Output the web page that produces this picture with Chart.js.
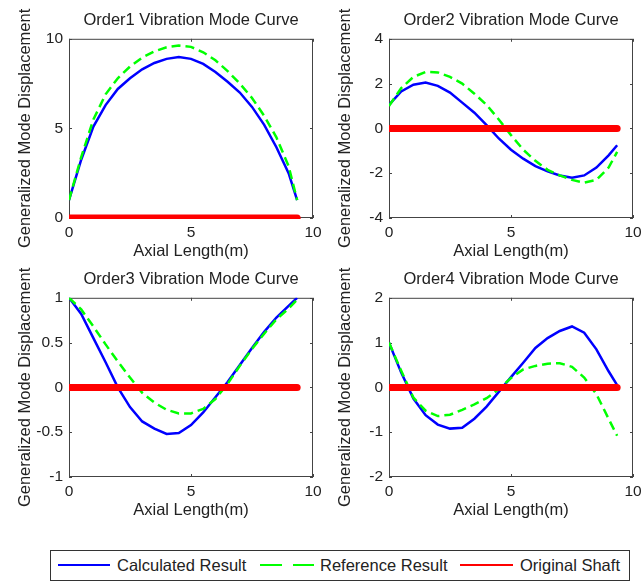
<!DOCTYPE html>
<html>
<head>
<meta charset="utf-8">
<title>Vibration Mode Curves</title>
<script src="https://cdn.jsdelivr.net/npm/chart.js@4.4.1/dist/chart.umd.min.js"></script>
<style>
    html, body { margin: 0; padding: 0; background: #fff; }
    #page { position: relative; width: 643px; height: 582px; overflow: hidden;
            font-family: "Liberation Sans", Arial, sans-serif; color: #222; }
    .plot { position: absolute; width: 322px; height: 270px; }
    #legend { position: absolute; left: 50px; top: 550px; width: 578px; height: 29px;
              border: 1px solid #333; background: #fff; }
    #legend .sample { position: absolute; top: 13px; height: 2px; }
    #legend .label { position: absolute; top: 4px; font-size: 16.5px; line-height: 20px; white-space: nowrap; }
</style>
</head>
<body>
<div id="page">
    <canvas id="order1" class="plot" width="322" height="270" style="left:0;top:0"></canvas>
    <canvas id="order2" class="plot" width="322" height="270" style="left:320px;top:0"></canvas>
    <canvas id="order3" class="plot" width="322" height="270" style="left:0;top:259px"></canvas>
    <canvas id="order4" class="plot" width="322" height="270" style="left:320px;top:259px"></canvas>
    <div id="legend">
        <div class="sample" style="left:7px;width:52px;background:#0000ff"></div>
        <div class="label" style="left:66px">Calculated Result</div>
        <div class="sample" style="left:209px;width:22px;background:#00ff00"></div>
        <div class="sample" style="left:242px;width:21px;background:#00ff00"></div>
        <div class="label" style="left:269px">Reference Result</div>
        <div class="sample" style="left:409px;width:53px;background:#ff0000"></div>
        <div class="label" style="left:469px">Original Shaft</div>
    </div>
</div>

<script>
// axial positions (m)
var xs = [0, 0.5, 1, 1.5, 2, 2.5, 3, 3.5, 4, 4.5, 5, 5.5, 6, 6.5, 7, 7.5, 8, 8.5, 9, 9.35];

var order1Calculated = [1.0, 3.25, 5.1, 6.3, 7.2, 7.8, 8.3, 8.65, 8.88, 8.98, 8.88, 8.6, 8.15, 7.6, 7.0, 6.2, 5.2, 3.95, 2.5, 1.0];
var order1Reference  = [1.0, 3.4, 5.5, 6.9, 7.8, 8.45, 8.95, 9.3, 9.53, 9.62, 9.55, 9.25, 8.8, 8.2, 7.5, 6.7, 5.7, 4.5, 2.9, 1.0];

var order2Calculated = [1.05, 1.65, 1.95, 2.05, 1.9, 1.6, 1.15, 0.7, 0.15, -0.45, -0.95, -1.35, -1.68, -1.92, -2.1, -2.2, -2.1, -1.75, -1.2, -0.75];
var order2Reference  = [1.0, 1.8, 2.3, 2.52, 2.5, 2.3, 2.0, 1.55, 1.05, 0.4, -0.3, -0.95, -1.45, -1.85, -2.1, -2.3, -2.42, -2.3, -1.75, -1.05];

var order3Calculated = [1.0, 0.82, 0.55, 0.28, 0.0, -0.22, -0.38, -0.46, -0.52, -0.51, -0.42, -0.28, -0.11, 0.06, 0.25, 0.44, 0.62, 0.78, 0.91, 1.0];
var order3Reference  = [1.0, 0.87, 0.68, 0.48, 0.29, 0.11, -0.06, -0.17, -0.25, -0.29, -0.29, -0.24, -0.13, 0.04, 0.24, 0.43, 0.6, 0.76, 0.88, 0.98];

var order4Calculated = [1.0, 0.33, -0.25, -0.62, -0.83, -0.92, -0.9, -0.7, -0.43, -0.1, 0.23, 0.55, 0.88, 1.1, 1.26, 1.36, 1.22, 0.85, 0.36, 0.05];
var order4Reference  = [1.0, 0.37, -0.23, -0.52, -0.64, -0.61, -0.5, -0.38, -0.24, -0.04, 0.21, 0.4, 0.48, 0.53, 0.54, 0.46, 0.22, -0.15, -0.7, -1.08];

// undeformed shaft
var shaftX = [0, 9.35];
var shaftY = [0, 0];

var xTicks = [0, 5, 10];
var order1Ticks = [0, 5, 10];
var order2Ticks = [-4, -2, 0, 2, 4];
var order3Ticks = [-1, -0.5, 0, 0.5, 1];
var order4Ticks = [-2, -1, 0, 1, 2];

var FONT = '"Liberation Sans", Arial, sans-serif';

function points(x, y) {
    return x.map(function (v, i) { return { x: v, y: y[i] }; });
}

// matlab style: plain numbers, no padded decimals
function plainTick(value) {
    return String(value);
}

// box round the plot area with short inward ticks, like the original figure
var axesBox = {
    id: 'axesBox',
    beforeDatasetsDraw: function (chart) {
        var ctx = chart.ctx, a = chart.chartArea;
        var sx = chart.scales.x, sy = chart.scales.y;
        ctx.save();
        ctx.strokeStyle = '#444';
        ctx.lineWidth = 1;
        ctx.strokeRect(a.left + 0.5, a.top + 0.5, a.right - a.left - 1, a.bottom - a.top - 1);
        ctx.beginPath();
        sx.ticks.forEach(function (t) {
            var px = Math.round(sx.getPixelForValue(t.value)) + 0.5;
            ctx.moveTo(px, a.bottom); ctx.lineTo(px, a.bottom - 3);
            ctx.moveTo(px, a.top); ctx.lineTo(px, a.top + 3);
        });
        sy.ticks.forEach(function (t) {
            var py = Math.round(sy.getPixelForValue(t.value)) + 0.5;
            ctx.moveTo(a.left, py); ctx.lineTo(a.left + 3, py);
            ctx.moveTo(a.right, py); ctx.lineTo(a.right - 3, py);
        });
        ctx.stroke();
        ctx.restore();
    }
};

function makeChart(id, title, calc, ref, yTicks) {
    var ctx = document.getElementById(id).getContext('2d');
    return new Chart(ctx, {
        type: 'line',
        data: {
            datasets: [{
                label: 'Original Shaft',
                data: points(shaftX, shaftY),
                borderColor: '#ff0000',
                borderWidth: 7,
                borderCapStyle: 'round',
                pointRadius: 0,
                clip: { left: 0, top: 0, right: 0, bottom: 1 },
                order: 0
            }, {
                label: 'Reference Result',
                data: points(xs, ref),
                borderColor: '#00ff00',
                borderWidth: 2.5,
                borderDash: [9, 5],
                pointRadius: 0,
                order: 1
            }, {
                label: 'Calculated Result',
                data: points(xs, calc),
                borderColor: '#0000ff',
                borderWidth: 2.5,
                pointRadius: 0,
                order: 2
            }]
        },
        options: {
            responsive: false,
            animation: false,
            events: [],
            layout: { padding: { left: 8, top: 9, right: 9, bottom: 7 } },
            plugins: {
                legend: { display: false },
                tooltip: { enabled: false },
                title: {
                    display: true,
                    text: title,
                    fullSize: false,
                    color: '#222',
                    font: { family: FONT, size: 16.5, weight: 'normal' },
                    padding: { top: 2, bottom: 8 }
                }
            },
            scales: {
                x: {
                    type: 'linear',
                    min: xTicks[0],
                    max: xTicks[xTicks.length - 1],
                    grid: { display: false, drawTicks: false },
                    border: { display: false },
                    ticks: { padding: 5, color: '#222', font: { family: FONT, size: 15.5 }, callback: plainTick },
                    afterBuildTicks: function (s) {
                        s.ticks = xTicks.map(function (v) { return { value: v }; });
                    },
                    afterFit: function (s) {
                        s.height = 45;
                        s.paddingLeft = 0;
                        s.paddingRight = 0;
                    },
                    title: {
                        display: true,
                        text: 'Axial Length(m)',
                        color: '#222',
                        font: { family: FONT, size: 16.5 },
                        padding: { top: 0, bottom: 2 }
                    }
                },
                y: {
                    min: yTicks[0],
                    max: yTicks[yTicks.length - 1],
                    grid: { display: false, drawTicks: false },
                    border: { display: false },
                    ticks: { padding: 6, color: '#222', font: { family: FONT, size: 15.5 }, callback: plainTick },
                    afterBuildTicks: function (s) {
                        s.ticks = yTicks.map(function (v) { return { value: v }; });
                    },
                    afterFit: function (s) {
                        s.width = 61;
                        s.paddingTop = 0;
                        s.paddingBottom = 0;
                    },
                    title: {
                        display: true,
                        text: 'Generalized Mode Displacement',
                        color: '#222',
                        font: { family: FONT, size: 16.5 },
                        padding: { top: 8, bottom: 0 }
                    }
                }
            }
        },
        plugins: [axesBox]
    });
}

makeChart('order1', 'Order1 Vibration Mode Curve', order1Calculated, order1Reference, order1Ticks);
makeChart('order2', 'Order2 Vibration Mode Curve', order2Calculated, order2Reference, order2Ticks);
makeChart('order3', 'Order3 Vibration Mode Curve', order3Calculated, order3Reference, order3Ticks);
makeChart('order4', 'Order4 Vibration Mode Curve', order4Calculated, order4Reference, order4Ticks);
</script>
</body>
</html>
